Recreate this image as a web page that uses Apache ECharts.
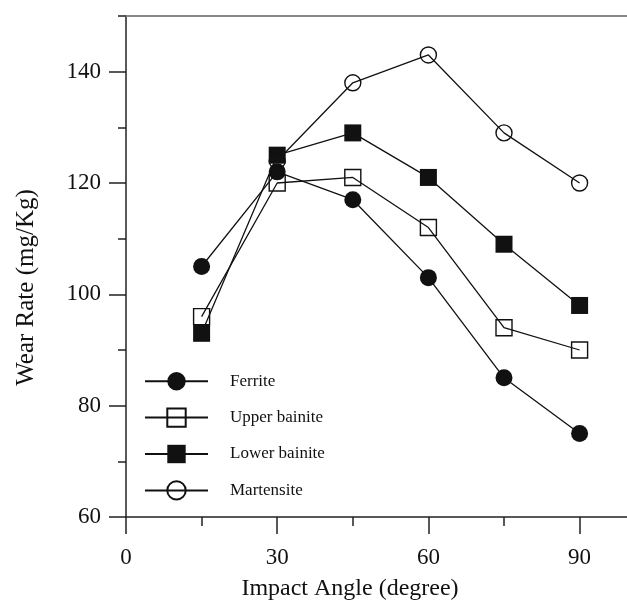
<!DOCTYPE html>
<html>
<head>
<meta charset="utf-8">
<script src="https://cdn.jsdelivr.net/npm/echarts@6/dist/echarts.min.js"></script>
<style>
  html, body { margin: 0; padding: 0; background: #fff; }
  #chart { width: 627px; height: 602px; }
</style>
</head>
<body>
<div id="chart"></div>
<script>
// impact angle (degree)
const angles = [15, 30, 45, 60, 75, 90]
const ferrite = [105, 122, 117, 103, 85, 75]
const upperBainite = [96, 120, 121, 112, 94, 90]
const lowerBainite = [93, 125, 129, 121, 109, 98]
// martensite starts at 30
const martensite = [null, 124, 138, 143, 129, 120]
const yMajorTicks = [60, 80, 100, 120, 140]
const xLabels = [0, 30, 60, 90]

const font = 'Liberation Serif'
const ink = '#111'

function pairs(vals) {
  const out = []
  vals.forEach((v, i) => {
    if (v !== null) out.push([angles[i], v])
  })
  return out
}

function makeSeries(name, vals, symbol, filled) {
  return {
    name: name,
    type: 'line',
    data: pairs(vals),
    symbol: symbol,
    symbolSize: filled ? 17 : 16,
    lineStyle: { color: ink, width: 1.3 },
    itemStyle: {
      color: filled ? ink : 'rgba(0,0,0,0)',
      borderColor: ink,
      borderWidth: filled ? 0 : 1.4
    },
    emphasis: { disabled: true }
  }
}

let myChart = echarts.init(document.getElementById('chart'))
myChart.setOption({
  animation: false,
  backgroundColor: '#fff',
  textStyle: { fontFamily: font },
  grid: { left: 126, right: -3, top: 16, bottom: 85, containLabel: false, outerBoundsMode: 'none' },
  legend: {
    orient: 'vertical',
    left: 139,
    top: 367,
    itemWidth: 63,
    itemHeight: 23,
    itemGap: 17,
    textStyle: { fontFamily: font, fontSize: 17, color: ink, padding: [0, 0, 0, 17] },
    data: ['Ferrite', 'Upper bainite', 'Lower bainite', 'Martensite']
  },
  xAxis: [
    {
      type: 'value',
      min: 0,
      max: 100,
      interval: 30,
      name: 'Impact Angle (degree)',
      nameLocation: 'middle',
      nameGap: 60,
      nameTextStyle: { fontFamily: font, fontSize: 24, color: ink, padding: [0, 56, 0, 0] },
      axisLine: { lineStyle: { color: '#222', width: 1.5 } },
      axisTick: { length: 17, lineStyle: { color: '#222', width: 1.5 } },
      minorTick: { show: true, splitNumber: 2, length: 9, lineStyle: { color: '#222', width: 1.5 } },
      axisLabel: {
        margin: 29,
        fontFamily: font,
        fontSize: 23,
        color: ink,
        formatter: v => (xLabels.indexOf(v) >= 0 ? v : '')
      },
      splitLine: { show: false }
    },
    {
      // top border
      type: 'value',
      position: 'top',
      min: 0,
      max: 1,
      axisLine: { show: true, lineStyle: { color: '#888', width: 2 } },
      axisTick: { show: false },
      axisLabel: { show: false },
      splitLine: { show: false }
    }
  ],
  yAxis: [
    {
      type: 'value',
      min: 60,
      max: 150,
      interval: 10,
      name: 'Wear Rate (mg/Kg)',
      nameLocation: 'middle',
      nameGap: 87,
      nameTextStyle: { fontFamily: font, fontSize: 25, color: ink, padding: [0, 42, 0, 0] },
      axisLine: { show: true, lineStyle: { color: '#222', width: 1.5 } },
      axisTick: { length: 8, lineStyle: { color: '#222', width: 1.5 } },
      axisLabel: {
        margin: 25,
        fontFamily: font,
        fontSize: 23,
        color: ink,
        formatter: v => (yMajorTicks.indexOf(v) >= 0 ? v : '')
      },
      splitLine: { show: false }
    },
    {
      // long ticks at the labelled values
      type: 'value',
      position: 'left',
      min: 60,
      max: 150,
      interval: 20,
      axisLine: { show: false },
      axisTick: { show: true, length: 17, customValues: yMajorTicks, lineStyle: { color: '#222', width: 1.5 } },
      axisLabel: { show: false },
      splitLine: { show: false }
    }
  ],
  series: [
    makeSeries('Ferrite', ferrite, 'circle', true),
    makeSeries('Upper bainite', upperBainite, 'rect', false),
    makeSeries('Lower bainite', lowerBainite, 'rect', true),
    makeSeries('Martensite', martensite, 'circle', false)
  ]
})
</script>
</body>
</html>
